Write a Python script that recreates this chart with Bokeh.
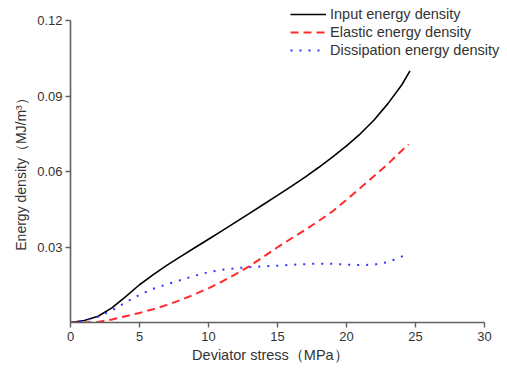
from bokeh.plotting import figure
from bokeh.models import FixedTicker, Range1d, Legend, LegendItem, NumeralTickFormatter
from bokeh.embed import file_html
from bokeh.resources import INLINE

stress = [0, 1, 2, 3, 4, 5, 6, 7, 8, 9, 10, 11, 12, 13, 14, 15, 16, 17, 18, 19, 20, 21, 22, 23, 24, 24.6]
input_energy = [0, 0.0008, 0.0025, 0.0058, 0.0103, 0.0150, 0.0190, 0.0228, 0.0263, 0.0297, 0.0331, 0.0365, 0.0400, 0.0435, 0.0470, 0.0505, 0.0541, 0.0578, 0.0617, 0.0658, 0.0702, 0.0750, 0.0805, 0.0870, 0.0944, 0.1000]

stress_e = [0, 1, 2, 3, 4, 5, 6, 7, 8, 9, 10, 11, 12, 13, 14, 15, 16, 17, 18, 19, 20, 21, 22, 23, 24, 24.5]
elastic_energy = [0, 0.0, 0.0002, 0.0012, 0.0025, 0.0038, 0.0053, 0.0070, 0.0090, 0.0112, 0.0136, 0.0163, 0.0193, 0.0225, 0.0262, 0.0299, 0.0334, 0.0368, 0.0404, 0.0442, 0.0488, 0.0535, 0.0582, 0.0630, 0.0683, 0.0708]

stress_d = [0, 1, 2, 3, 4, 5, 6, 7, 8, 9, 10, 11, 12, 13, 14, 15, 16, 17, 18, 19, 20, 21, 22, 23, 24, 24.3]
dissipation_energy = [0, 0.0008, 0.0023, 0.0048, 0.0080, 0.0110, 0.0134, 0.0152, 0.0169, 0.0186, 0.0200, 0.0210, 0.0216, 0.0220, 0.0223, 0.0226, 0.0229, 0.0232, 0.0234, 0.0233, 0.0230, 0.0228, 0.0230, 0.0240, 0.0262, 0.0275]

x_ticks = [0, 5, 10, 15, 20, 25, 30]
y_ticks = [0.03, 0.06, 0.09, 0.12]

FONT = "Liberation Sans"

p = figure(width=507, height=370, output_backend="svg", toolbar_location=None,
           x_range=Range1d(0, 31.667), y_range=Range1d(0, 0.126),
           min_border_left=70, min_border_right=0, min_border_top=5, min_border_bottom=48)
p.outline_line_color = None
p.grid.visible = False
p.background_fill_color = "white"
p.border_fill_color = "white"

l1 = p.line(stress, input_energy, line_color="black", line_width=1.6)
l2 = p.line(stress_e, elastic_energy, line_color="#ff2a2a", line_width=2, line_dash="8 5")
l3 = p.line(stress_d, dissipation_energy, line_color="#3333ff", line_width=2, line_dash="2 7")

for ax in (p.xaxis[0], p.yaxis[0]):
    ax.axis_line_color = "#606060"
    ax.axis_line_width = 1.6
    ax.major_tick_line_color = "#606060"
    ax.major_tick_line_width = 1.4
    ax.major_tick_out = 5
    ax.major_tick_in = 0
    ax.minor_tick_line_color = None
    ax.major_label_text_font = FONT
    ax.major_label_text_font_size = "13px"
    ax.major_label_text_color = "#333333"
    ax.axis_label_text_font = FONT
    ax.axis_label_text_font_style = "normal"
    ax.axis_label_text_color = "#333333"

p.xaxis.axis_label_text_font_size = "14.5px"
p.yaxis.axis_label_text_font_size = "14px"
p.xaxis.ticker = FixedTicker(ticks=x_ticks)
p.yaxis.ticker = FixedTicker(ticks=y_ticks)
p.yaxis.formatter = NumeralTickFormatter(format="0.00")
p.yaxis.bounds = (0, 0.12)
p.xaxis.bounds = (0, 30)
p.xaxis.axis_label = "Deviator stress（MPa）\u3000\u3000\u2002"
p.yaxis.axis_label = "Energy density（MJ/m³）\u3000"
p.xaxis.major_label_standoff = 4
p.xaxis.axis_label_standoff = 3
p.yaxis.major_label_standoff = 3
p.yaxis.axis_label_standoff = 5

legend = Legend(items=[
    LegendItem(label="Input energy density", renderers=[l1]),
    LegendItem(label="Elastic energy density", renderers=[l2]),
    LegendItem(label="Dissipation energy density", renderers=[l3]),
], location=(220, 264))
legend.border_line_color = None
legend.background_fill_alpha = 0
legend.padding = 0
legend.margin = 0
legend.spacing = 2
legend.glyph_width = 36
legend.glyph_height = 16
legend.label_height = 16
legend.label_standoff = 4
legend.label_text_font = FONT
legend.label_text_font_size = "14.5px"
legend.label_text_color = "#333333"
p.add_layout(legend, "center")

open("out.html", "w").write(file_html(p, INLINE))
